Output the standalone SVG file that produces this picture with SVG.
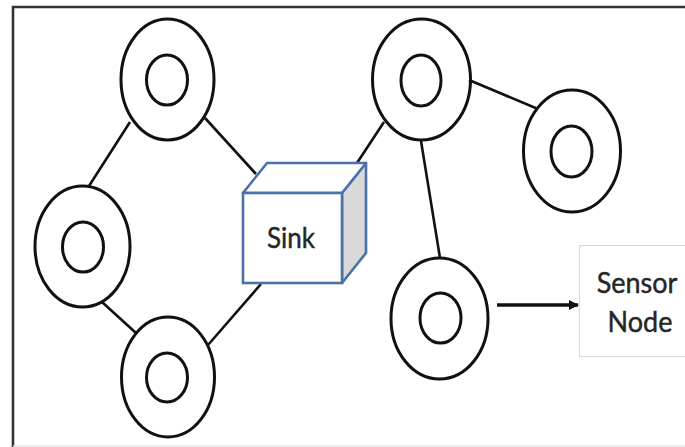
<svg xmlns="http://www.w3.org/2000/svg" width="685" height="447" viewBox="0 0 685 447">
<defs>
<style>
.ring{fill:none;stroke:#111;stroke-width:3}
.edge{stroke:#111;stroke-width:2.6;fill:none}
.lbl{font-family:Lato,"Liberation Sans",sans-serif;fill:#262626;stroke:#262626;stroke-width:0.4;text-anchor:middle}
</style>
<marker id="ah" viewBox="0 0 10 10" refX="9" refY="5" markerWidth="3" markerHeight="3.2" orient="auto" markerUnits="strokeWidth">
<path d="M0,0 L10,5 L0,10 z" fill="#111"/>
</marker>
</defs>
<rect width="685" height="447" fill="#fff"/>
<g id="frame">
<path d="M13,447 V7 H685" fill="none" stroke="#333" stroke-width="2.6"/>
<line x1="13" y1="446" x2="685" y2="446" stroke="#e6e6e6" stroke-width="1.5"/>
</g>
<g id="connectors">
<line class="edge" x1="130" y1="122" x2="89" y2="186"/>
<line class="edge" x1="205" y1="118" x2="256" y2="174"/>
<line class="edge" x1="102" y1="302" x2="136" y2="333"/>
<line class="edge" x1="208" y1="345" x2="261" y2="284"/>
<line class="edge" x1="357" y1="163" x2="384" y2="122"/>
<line class="edge" x1="469" y1="80" x2="538" y2="109"/>
<line class="edge" x1="421" y1="141" x2="440" y2="258"/>
<line x1="497" y1="305" x2="578" y2="305" stroke="#111" stroke-width="3.5" marker-end="url(#ah)"/>
</g>
<g id="node-top-left">
<ellipse class="ring" cx="167.5" cy="79.5" rx="46.5" ry="60.5"/>
<ellipse class="ring" cx="167" cy="80" rx="20.5" ry="25"/>
</g>
<g id="node-left">
<ellipse class="ring" cx="82.5" cy="246.5" rx="47.5" ry="60.5"/>
<ellipse class="ring" cx="83" cy="247" rx="20.5" ry="25"/>
</g>
<g id="node-bottom-left">
<ellipse class="ring" cx="168" cy="377" rx="46.5" ry="60"/>
<ellipse class="ring" cx="167" cy="377.5" rx="20.5" ry="24.5"/>
</g>
<g id="node-top-right">
<ellipse class="ring" cx="421.5" cy="79.5" rx="49" ry="60.5"/>
<ellipse class="ring" cx="421" cy="80.5" rx="20" ry="25.5"/>
</g>
<g id="node-right">
<ellipse class="ring" cx="572" cy="151" rx="48.5" ry="61"/>
<ellipse class="ring" cx="571.5" cy="151.5" rx="20.5" ry="25.5"/>
</g>
<g id="node-bottom-right">
<ellipse class="ring" cx="439.5" cy="318.5" rx="48.5" ry="60.5"/>
<ellipse class="ring" cx="440.5" cy="318" rx="20.5" ry="25"/>
</g>
<g id="sink">
<polygon points="342,193 366,163 366,253 342,283" fill="#d9d9d9" stroke="#4a72a8" stroke-width="2.6" stroke-linejoin="round"/>
<polygon points="243,193 267,163 366,163 342,193" fill="#fff" stroke="#4a72a8" stroke-width="2.6" stroke-linejoin="round"/>
<rect x="243" y="193" width="99" height="90" fill="#fff" stroke="#4a72a8" stroke-width="2.6"/>
<text class="lbl" transform="translate(291,248) scale(1,1.12)" font-size="26">Sink</text>
</g>
<g id="sensor-node-legend">
<rect x="579.5" y="245.5" width="110" height="111" fill="#fff" stroke="#d8d8d8" stroke-width="1"/>
<text class="lbl" transform="translate(637,293) scale(1,1.1)" font-size="27">Sensor</text>
<text class="lbl" transform="translate(640,332) scale(1,1.1)" font-size="27">Node</text>
</g>
</svg>
